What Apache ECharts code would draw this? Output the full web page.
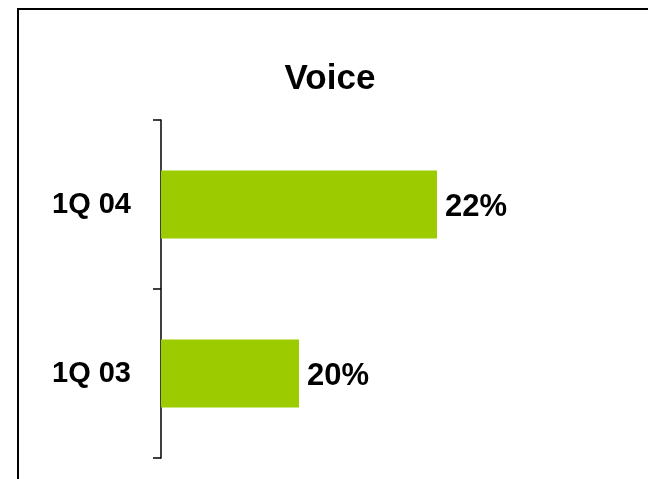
<!DOCTYPE html>
<html>
<head>
<meta charset="utf-8">
<script src="https://cdn.jsdelivr.net/npm/echarts@6/dist/echarts.min.js"></script>
<style>
  html, body { margin: 0; padding: 0; background: #ffffff; }
  #chart { width: 648px; height: 479px; }
</style>
</head>
<body>
<div id="chart"></div>
<script>
// Quarterly share for voice, bottom row first
const categories = ['1Q 03', '1Q 04'];
const voiceShare = [20, 22];
const chartTitle = 'Voice';

const FONT = '"Liberation Sans", Arial, Helvetica, sans-serif';

const chart = echarts.init(document.getElementById('chart'), null, { renderer: 'canvas' });

chart.setOption({
  backgroundColor: '#ffffff',
  animation: false,
  title: {
    text: chartTitle,
    left: 325,
    top: 57,
    textAlign: 'center',
    textStyle: { fontFamily: FONT, fontWeight: 'bold', fontSize: 35, color: '#000000' }
  },
  // open frame: top edge and left edge
  graphic: [
    { type: 'line', shape: { x1: 17, y1: 9, x2: 648, y2: 9 }, style: { stroke: '#000', lineWidth: 2 } },
    { type: 'line', shape: { x1: 18, y1: 8, x2: 18, y2: 479 }, style: { stroke: '#000', lineWidth: 2 } }
  ],
  grid: { left: 161, right: 73, top: 120, bottom: 21, containLabel: false },
  xAxis: {
    type: 'value',
    min: 18,
    max: 24,
    show: false
  },
  yAxis: {
    type: 'category',
    data: categories,
    axisLine: { show: true, lineStyle: { color: '#000', width: 1.5 } },
    axisTick: { show: true, length: 8, lineStyle: { color: '#000', width: 1.5 } },
    axisLabel: {
      margin: 30,
      padding: [7, 0, 0, 0],
      fontFamily: FONT,
      fontWeight: 'bold',
      fontSize: 29,
      color: '#000'
    },
    splitLine: { show: false }
  },
  series: [{
    type: 'bar',
    data: voiceShare,
    barWidth: 68,
    itemStyle: { color: '#9CCC00' },
    label: {
      show: true,
      position: 'right',
      distance: 8,
      offset: [0, 3],
      formatter: '{c}%',
      fontFamily: FONT,
      fontWeight: 'bold',
      fontSize: 31,
      color: '#000'
    }
  }]
});
</script>
</body>
</html>
